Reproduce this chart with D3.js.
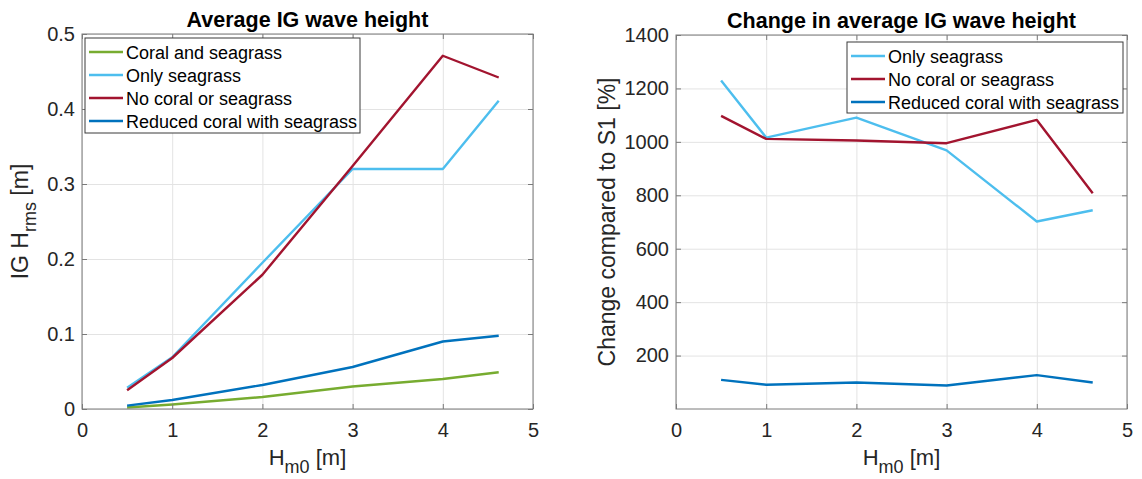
<!DOCTYPE html>
<html>
  <head>
    <meta charset="utf-8">
    <title>IG wave height</title>
    <script src="https://cdn.jsdelivr.net/npm/d3@7"></script>
    <style>
      body { margin: 0; background: #fff; }
      text { font-family: "Liberation Sans", Arial, sans-serif; fill: #262626; }
    </style>
  </head>
  <body>
    <svg width="1142" height="479" id="mainsvg"></svg>
    <script>
      // Data
      const hm0 = [0.5, 1, 2, 3, 4, 4.62];
      const coralSeagrass = [0.002, 0.006, 0.016, 0.030, 0.040, 0.049];
      const onlySeagrass = [0.0285, 0.069, 0.195, 0.320, 0.320, 0.411];
      const noCoral = [0.025, 0.068, 0.179, 0.324, 0.471, 0.442];
      const reducedCoral = [0.0045, 0.012, 0.032, 0.056, 0.090, 0.0976];

      const changeOnlySeagrass = [1230, 1016, 1091, 968, 702, 744];
      const changeNoCoral = [1097, 1011, 1005, 995, 1082, 808];
      const changeReducedCoral = [109, 91, 99, 88, 127, 99];

      const xTicks = [0, 1, 2, 3, 4, 5];
      const leftYTicks = [0, 0.1, 0.2, 0.3, 0.4, 0.5];
      const rightYTicks = [200, 400, 600, 800, 1000, 1200, 1400];

      const colors = {
        green: '#77AC30',
        light: '#4DBEEE',
        red: '#A2142F',
        blue: '#0072BD'
      };

      const svg = d3.select('#mainsvg');

      const drawPanel = function(cfg) {
        const w = cfg.right - cfg.left;
        const h = cfg.bottom - cfg.top;

        const xScale = d3.scaleLinear().domain([0, 5]).range([0, w]);
        const yScale = d3.scaleLinear().domain(cfg.yDomain).range([h, 0]);

        const g = svg.append('g')
          .attr('transform', `translate(${cfg.left}, ${cfg.top})`);

        // grid lines
        const xGrid = g.append('g').attr('transform', `translate(0, ${h})`)
          .call(d3.axisBottom(xScale).tickValues(xTicks).tickSize(-h).tickFormat(''));
        const yGrid = g.append('g')
          .call(d3.axisLeft(yScale).tickValues(cfg.yTicks).tickSize(-w).tickFormat(''));
        [xGrid, yGrid].forEach(a => {
          a.selectAll('.domain').remove();
          a.selectAll('line').attr('stroke', '#e3e3e3');
        });

        // lines
        const line = d3.line()
          .x((d, i) => xScale(hm0[i]))
          .y(d => yScale(d));
        cfg.series.forEach(s => {
          g.append('path')
            .datum(s.values)
            .attr('d', line)
            .attr('fill', 'none')
            .attr('stroke', s.color)
            .attr('stroke-width', 2.4)
            .attr('stroke-linejoin', 'round');
        });

        // axes (ticks inside, like matlab)
        const xAxis = g.append('g').attr('transform', `translate(0, ${h})`)
          .call(d3.axisBottom(xScale).tickValues(xTicks).tickSize(-5).tickPadding(14)
            .tickFormat(d3.format('~g')));
        const yAxis = g.append('g')
          .call(d3.axisLeft(yScale).tickValues(cfg.yTicks).tickSize(-5).tickPadding(7)
            .tickFormat(d3.format('~g')));
        const xTop = g.append('g')
          .call(d3.axisTop(xScale).tickValues(xTicks).tickSize(-5).tickFormat(''));
        const yRight = g.append('g').attr('transform', `translate(${w}, 0)`)
          .call(d3.axisRight(yScale).tickValues(cfg.yTicks).tickSize(-5).tickFormat(''));
        [xAxis, yAxis, xTop, yRight].forEach(a => {
          a.selectAll('.domain').remove();
          a.selectAll('line').attr('stroke', '#7a7a7a');
          a.selectAll('text').attr('font-size', 20).attr('fill', '#262626')
            .attr('font-family', '"Liberation Sans", Arial, sans-serif');
        });

        // box
        g.append('rect')
          .attr('width', w).attr('height', h)
          .attr('fill', 'none').attr('stroke', '#7a7a7a').attr('stroke-width', 1);

        // title
        g.append('text')
          .attr('x', w / 2).attr('y', -7)
          .attr('text-anchor', 'middle')
          .attr('font-size', 21.5).attr('font-weight', 'bold')
          .style('fill', '#000')
          .text(cfg.title);

        // x label
        const xl = g.append('text')
          .attr('x', w / 2).attr('y', h + 56)
          .attr('text-anchor', 'middle')
          .attr('font-size', 22);
        xl.append('tspan').text('H');
        xl.append('tspan').attr('dy', 8).attr('font-size', 18).text('m0');
        xl.append('tspan').attr('dy', -8).text(' [m]');

        // y label
        const yl = svg.append('text')
          .attr('transform', `translate(${cfg.yLabelX}, ${cfg.top + h / 2}) rotate(-90)`)
          .attr('text-anchor', 'middle')
          .attr('font-size', 23);
        cfg.yLabel(yl);

        // legend
        const lg = svg.append('g')
          .attr('transform', `translate(${cfg.legend.x}, ${cfg.legend.y})`);
        lg.append('rect')
          .attr('width', cfg.legend.w)
          .attr('height', cfg.legend.h)
          .attr('fill', '#fff')
          .attr('stroke', '#3a3a3a')
          .attr('stroke-width', 1);
        cfg.series.forEach((s, i) => {
          const cy = 14 + i * 23;
          lg.append('line')
            .attr('x1', 4).attr('x2', 38)
            .attr('y1', cy).attr('y2', cy)
            .attr('stroke', s.color).attr('stroke-width', 2.4);
          lg.append('text')
            .attr('x', 41).attr('y', cy + 6.5)
            .attr('font-size', 18)
            .style('fill', '#000')
            .text(s.name);
        });
      };

      drawPanel({
        left: 82, right: 533, top: 34, bottom: 409,
        yDomain: [0, 0.5],
        yTicks: leftYTicks,
        title: 'Average IG wave height',
        yLabelX: 28,
        yLabel: t => {
          t.append('tspan').text('IG H');
          t.append('tspan').attr('dy', 8).attr('font-size', 18).text('rms');
          t.append('tspan').attr('dy', -8).text(' [m]');
        },
        legend: {x: 85, y: 38, w: 275, h: 95},
        series: [
          {name: 'Coral and seagrass', values: coralSeagrass, color: colors.green},
          {name: 'Only seagrass', values: onlySeagrass, color: colors.light},
          {name: 'No coral or seagrass', values: noCoral, color: colors.red},
          {name: 'Reduced coral with seagrass', values: reducedCoral, color: colors.blue}
        ]
      });

      drawPanel({
        left: 676, right: 1127, top: 35, bottom: 409,
        yDomain: [0, 1400],
        yTicks: rightYTicks,
        title: 'Change in average IG wave height',
        yLabelX: 615,
        yLabel: t => t.text('Change compared to S1 [%]'),
        legend: {x: 847, y: 42, w: 276, h: 71},
        series: [
          {name: 'Only seagrass', values: changeOnlySeagrass, color: colors.light},
          {name: 'No coral or seagrass', values: changeNoCoral, color: colors.red},
          {name: 'Reduced coral with seagrass', values: changeReducedCoral, color: colors.blue}
        ]
      });
    </script>
  </body>
</html>
